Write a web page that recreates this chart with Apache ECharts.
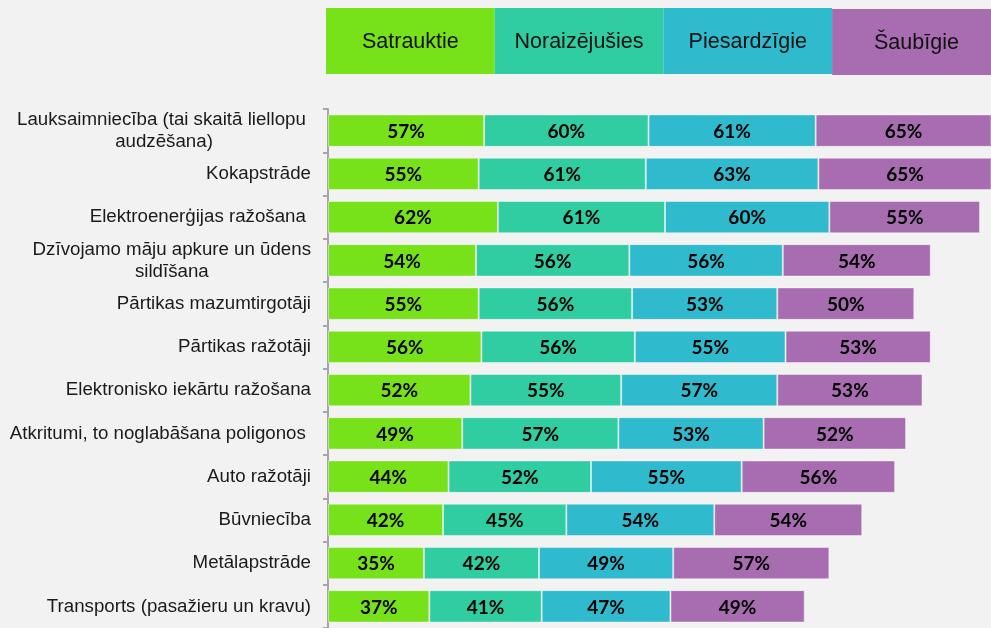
<!DOCTYPE html>
<html>
<head>
<meta charset="utf-8">
<script src="https://cdn.jsdelivr.net/npm/echarts@6/dist/echarts.min.js"></script>
<style>
  html, body { margin: 0; padding: 0; background: #f2f2f2; }
  #chart { width: 991px; height: 628px; }
</style>
</head>
<body>
<div id="chart"></div>
<script>
// Sectors, listed top to bottom
const categories = [
  "Lauksaimniecība (tai skaitā liellopu \naudzēšana)",
  "Kokapstrāde",
  "Elektroenerģijas ražošana ",
  "Dzīvojamo māju apkure un ūdens\nsildīšana",
  "Pārtikas mazumtirgotāji",
  "Pārtikas ražotāji",
  "Elektronisko iekārtu ražošana",
  "Atkritumi, to noglabāšana poligonos ",
  "Auto ražotāji",
  "Būvniecība",
  "Metālapstrāde",
  "Transports (pasažieru un kravu)"
];

// Share (%) of each attitude segment per sector
const satrauktie     = [57, 55, 62, 54, 55, 56, 52, 49, 44, 42, 35, 37];
const noraizejusies  = [60, 61, 61, 56, 56, 56, 55, 57, 52, 45, 42, 41];
const piesardzigie   = [61, 63, 60, 56, 53, 55, 57, 53, 55, 54, 49, 47];
const saubigie       = [65, 65, 55, 54, 50, 53, 53, 52, 56, 54, 57, 49];

const seriesNames  = ["Satrauktie", "Noraizējušies", "Piesardzīgie", "Šaubīgie"];
const seriesData   = [satrauktie, noraizejusies, piesardzigie, saubigie];
const seriesColors = ["#77e11a", "#30cda2", "#2fbacd", "#a86db0"];

const chart = echarts.init(document.getElementById('chart'), null, { renderer: 'canvas' });

// Coloured header boxes naming each segment
const boxLeft = 326, boxTop = 8, boxW = 168.7, boxH = 66;
const headerBoxes = seriesNames.map((name, i) => ({
  type: 'group',
  left: boxLeft + i * boxW,
  top: boxTop + (i === 3 ? 1 : 0),
  children: [
    { type: 'rect', shape: { x: 0, y: 0, width: boxW, height: boxH }, style: { fill: seriesColors[i] } },
    { type: 'text', x: boxW / 2, y: boxH / 2 + 1,
      style: { text: name, fill: '#111', font: '21.5px "Liberation Sans", Arial, sans-serif',
               align: 'center', verticalAlign: 'middle' } }
  ]
}));

const option = {
  backgroundColor: '#f2f2f2',
  animation: false,
  graphic: headerBoxes,
  grid: { left: 328, top: 109, width: 663, height: 523, containLabel: false },
  xAxis: {
    type: 'value', min: 0, max: 242, show: false
  },
  yAxis: {
    type: 'category',
    inverse: true,
    data: categories,
    offset: 1,
    axisLine: { show: true, lineStyle: { color: '#a6a6a6', width: 2 } },
    axisTick: { show: true, length: 5, lineStyle: { color: '#a6a6a6', width: 2 } },
    axisLabel: {
      margin: 16,
      formatter: v => v.split('\n').map(l => '{c|' + l + '}').join('\n'),
      rich: {
        c: { align: 'center', fontSize: 18.7, lineHeight: 22, color: '#1a1a1a',
             fontFamily: '"Liberation Sans", Arial, sans-serif' }
      }
    }
  },
  series: seriesNames.map((name, i) => ({
    name,
    type: 'bar',
    stack: 'total',
    data: seriesData[i],
    barCategoryGap: '25%',
    itemStyle: { color: seriesColors[i], borderColor: 'rgba(255,255,255,0.45)', borderWidth: 1 },
    label: {
      show: true,
      position: 'inside',
      offset: [0, 1],
      formatter: p => p.value + '%',
      color: '#000',
      fontFamily: 'Lato, "Open Sans", sans-serif',
      fontWeight: 'bold',
      fontSize: 19
    }
  }))
};

chart.setOption(option);
</script>
</body>
</html>
